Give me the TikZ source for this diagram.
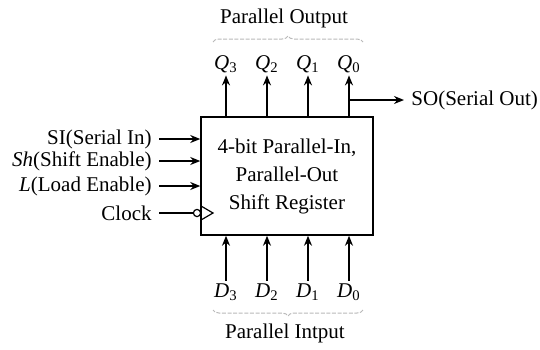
\documentclass[tikz,border=0pt]{standalone}
\usepackage{fontspec}
\setmainfont{Liberation Serif}
\usetikzlibrary{arrows.meta,decorations.pathreplacing}
\newcommand{\sig}[2]{\textit{#1}\textsubscript{#2}}
\begin{document}
\begin{tikzpicture}[x=0.5pt, y=-0.5pt, thick, line width=0.75pt,
    font=\fontsize{10.5}{12.5}\selectfont,
    >={Stealth[length=5pt,width=4pt]},
    regbox/.style={draw, rectangle, minimum width=86pt, minimum height=59pt, align=center, inner sep=0pt},
    pin/.style={inner sep=1pt},
    grp/.style={draw=gray!55, line width=0.5pt, dash pattern=on 2pt off 0.8pt, decorate, decoration={brace, amplitude=3pt}}]
    \useasboundingbox (0,0) rectangle (540,349);

    \node[regbox] (reg) at (287,176) {4-bit Parallel-In,\\[1.5pt] Parallel-Out\\[1.5pt] Shift Register};

    % outputs
    \node[pin] (q3) at (226,64) {\sig{Q}{3}};
    \node[pin] (q2) at (267,64) {\sig{Q}{2}};
    \node[pin] (q1) at (308,64) {\sig{Q}{1}};
    \node[pin] (q0) at (349,64) {\sig{Q}{0}};
    \foreach \q in {q3,q2,q1,q0}
        \draw[->] (\q |- reg.north) -- (\q.south);
    \draw[grp] (213,42) -- (363,42);
    \node (pout) at (284,18) {Parallel Output};

    \coordinate (so) at (349,100);
    \node[anchor=west] (sout) at (404,100) {SO(Serial Out)};
    \draw[->] (so) -- (sout.west);

    % inputs
    \node[anchor=east] (si) at (159,139) {SI(Serial In)};
    \node[anchor=east] (sh) at (159,161) {\textit{Sh}(Shift Enable)};
    \node[anchor=east] (ld) at (159,186) {\textit{L}(Load Enable)};
    \node[anchor=east] (clk) at (159,213) {Clock};
    \foreach \s in {si,sh,ld}
        \draw[->] (\s.east) -- (\s -| reg.west);
    \node[draw, circle, inner sep=0pt, minimum size=3.6pt, line width=0.6pt] (bub) at (197,213) {};
    \draw (clk.east) -- (bub.west);
    \draw[line width=0.6pt] (201,206) -- (213,213) -- (201,220);

    \node[pin] (d3) at (226,292) {\sig{D}{3}};
    \node[pin] (d2) at (267,292) {\sig{D}{2}};
    \node[pin] (d1) at (308,292) {\sig{D}{1}};
    \node[pin] (d0) at (349,292) {\sig{D}{0}};
    \foreach \d in {d3,d2,d1,d0}
        \draw[->] (\d.north) -- (\d |- reg.south);
    \draw[grp] (363,310) -- (213,310);
    \node (pin) at (285,333) {Parallel Intput};
\end{tikzpicture}
\end{document}
